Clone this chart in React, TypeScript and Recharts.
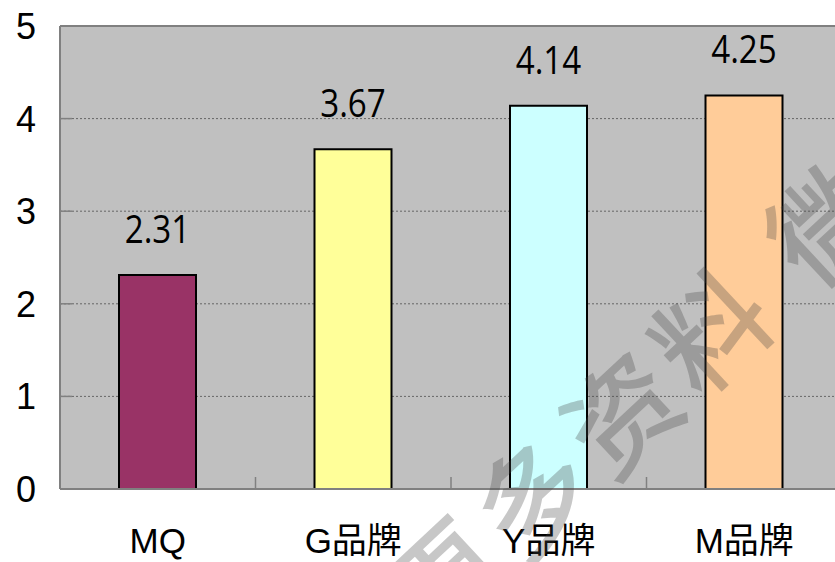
import { Bar, BarChart, CartesianGrid, Cell, LabelList, ReferenceLine, XAxis, YAxis } from "recharts";

// Brand scores.
const BRANDS = ["MQ", "G品牌", "Y品牌", "M品牌"];
const SCORES = [2.31, 3.67, 4.14, 4.25];
const BAR_COLORS = ["#993366", "#ffff99", "#ccffff", "#ffcc99"];
const Y_TICKS = [0, 1, 2, 3, 4, 5];

const data = BRANDS.map((name, i) => ({ name, score: SCORES[i] }));

const AXIS_GRAY = "#808080";
const LATIN_CJK = "'Liberation Sans', Arial, 'Noto Sans CJK SC', sans-serif";

function YTick(props: any) {
  const { x, y, payload } = props;
  return (
    <g>
      {/* inward tick mark */}
      <line x1={x} x2={x + 12} y1={y} y2={y} stroke={AXIS_GRAY} strokeWidth={1.5} />
      <text x={x - 24} y={y} dy="0.36em" textAnchor="end" fontSize={36} fontFamily={LATIN_CJK} fill="#000">
        {payload.value}
      </text>
    </g>
  );
}

function XTick(props: any) {
  const { x, y, payload, index } = props;
  const off = payload.offset;
  return (
    <g>
      {index > 0 && off != null && (
        <line x1={x - off} x2={x - off} y1={y} y2={y - 12} stroke={AXIS_GRAY} strokeWidth={1.5} />
      )}
      <text x={x} y={y + 64} textAnchor="middle" fontSize={35} fontFamily={LATIN_CJK} fill="#000">
        {payload.value}
      </text>
    </g>
  );
}

// value labels are in a narrow face in the original; squeeze Open Sans a bit
function ValueLabel(props: any) {
  const { x, y, width, value } = props;
  return (
    <text
      transform={`translate(${x + width / 2},${y - 32}) scale(0.85,1)`}
      textAnchor="middle"
      fontSize={39}
      fontFamily="'Open Sans', sans-serif"
      fill="#000"
    >
      {value}
    </text>
  );
}

export default function App() {
  return (
    <div style={{ position: "absolute", left: 0, top: 0, width: 835, height: 562, overflow: "hidden", background: "#fff" }}>
      <BarChart width={850} height={562} data={data} margin={{ top: 26, right: 8, left: 0, bottom: 0 }}>
        <CartesianGrid vertical={false} fill="#c0c0c0" stroke="#666" strokeDasharray="2 2" />
        <XAxis
          dataKey="name"
          interval={0}
          height={73}
          tickLine={false}
          tickSize={0}
          tickMargin={0}
          axisLine={{ stroke: AXIS_GRAY, strokeWidth: 2 }}
          tick={<XTick />}
        />
        <YAxis
          type="number"
          domain={[0, 5]}
          ticks={Y_TICKS}
          width={60}
          tickLine={false}
          tickSize={0}
          tickMargin={0}
          axisLine={{ stroke: AXIS_GRAY, strokeWidth: 2 }}
          tick={<YTick />}
        />
        <ReferenceLine y={5} stroke={AXIS_GRAY} strokeWidth={2} />
        <Bar dataKey="score" barSize={77} stroke="#000" strokeWidth={2} isAnimationActive={false}>
          {data.map((d, i) => (
            <Cell key={d.name} fill={BAR_COLORS[i]} />
          ))}
          <LabelList dataKey="score" content={<ValueLabel />} />
        </Bar>
      </BarChart>
      {/* watermark over the picture */}
      <svg width={835} height={562} style={{ position: "absolute", left: 0, top: 0, pointerEvents: "none" }}>
        <text
          transform="translate(398,614) rotate(-43)"
          fontSize={112}
          fontWeight={500}
          letterSpacing={10}
          fontFamily="'Noto Sans CJK SC', sans-serif"
          fill="#444"
          fillOpacity={0.3}
          dominantBaseline="central"
        >
          更多资料 微信
        </text>
      </svg>
    </div>
  );
}
